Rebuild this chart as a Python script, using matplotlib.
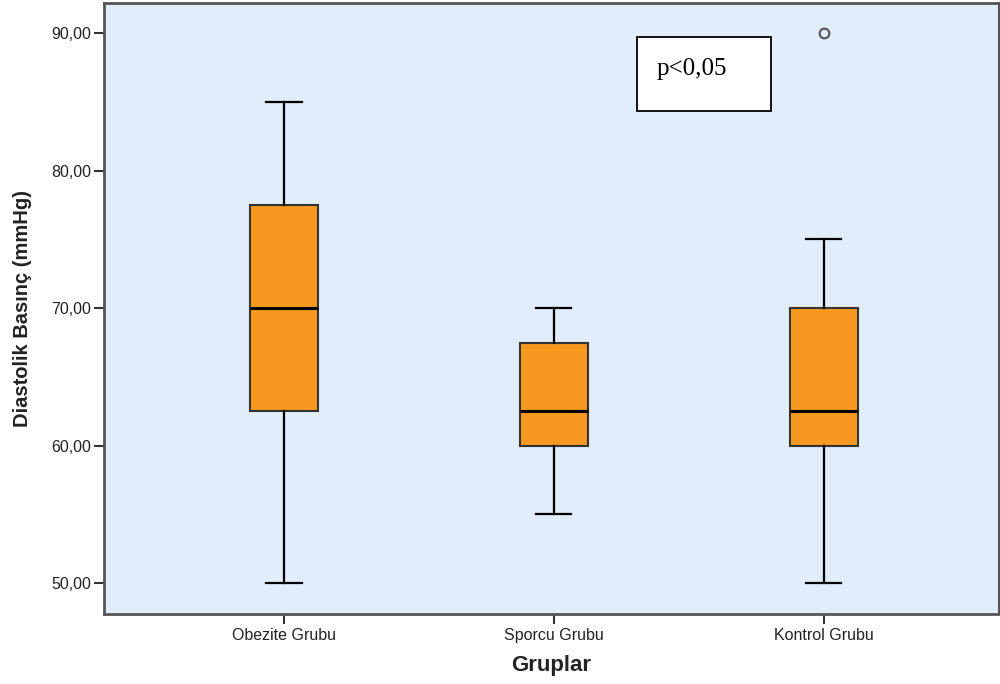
import matplotlib.pyplot as plt
from matplotlib.patches import Rectangle

# box plot summary values
groups = ['Obezite Grubu', 'Sporcu Grubu', 'Kontrol Grubu']
whislo = [50.0, 55.0, 50.0]
q1 = [62.5, 60.0, 60.0]
med = [70.0, 62.5, 62.5]
q3 = [77.5, 67.5, 70.0]
whishi = [85.0, 70.0, 75.0]
fliers = [[], [], [90.0]]

yticks = [50, 60, 70, 80, 90]
ytick_labels = ['50,00', '60,00', '70,00', '80,00', '90,00']

stats = []
for i in range(len(groups)):
    stats.append({'label': groups[i], 'whislo': whislo[i], 'q1': q1[i], 'med': med[i],
                  'q3': q3[i], 'whishi': whishi[i], 'fliers': fliers[i]})

fig = plt.figure(figsize=(10, 6.84), dpi=100)
ax = fig.add_axes([0.104, 0.1023, 0.895, 0.8933])
ax.set_facecolor('#E1EDFA')

ax.bxp(stats, positions=[1, 2, 3], widths=0.252, patch_artist=True,
       boxprops=dict(facecolor='#F7991F', edgecolor='#333333', linewidth=1.5),
       medianprops=dict(color='black', linewidth=2.2),
       whiskerprops=dict(color='black', linewidth=1.6),
       capprops=dict(color='black', linewidth=1.6),
       capwidths=0.13,
       flierprops=dict(marker='o', markersize=7, markerfacecolor='none',
                       markeredgecolor='#555555', markeredgewidth=1.5))

ax.set_xlim(0.333, 3.65)
ax.set_ylim(47.75, 92.2)
ax.set_yticks(yticks)
ax.set_yticklabels(ytick_labels, fontsize=11.5, family='Liberation Sans', color='#222222')
ax.set_xticks([1, 2, 3])
ax.set_xticklabels(groups, fontsize=11.5, family='Liberation Sans', color='#222222')
ax.tick_params(axis='both', length=7, width=1.5, color='#333333')
ax.tick_params(axis='y', pad=2)
ax.tick_params(axis='x', pad=3)

for s in ['left', 'bottom', 'top']:
    ax.spines[s].set_color('#555555')
    ax.spines[s].set_linewidth(2)
ax.spines['right'].set_color('#555555')
ax.spines['right'].set_linewidth(1.5)

ax.set_ylabel('Diastolik Basınç (mmHg)', fontsize=14.5, fontweight='bold',
              family='Liberation Sans', color='#222222', labelpad=14)
ax.set_xlabel('Gruplar', fontsize=16, fontweight='bold',
              family='Liberation Sans', color='#222222', labelpad=9)

# p value annotation box
ax.add_patch(Rectangle((0.595, 0.823), 0.1505, 0.121, transform=ax.transAxes,
                       facecolor='white', edgecolor='black', linewidth=1.3, zorder=5))
ax.text(0.6175, 0.882, 'p<0,05', transform=ax.transAxes, fontsize=18,
        family='Liberation Serif', va='baseline', ha='left', zorder=6)

fig.savefig('out.png', dpi=100)
